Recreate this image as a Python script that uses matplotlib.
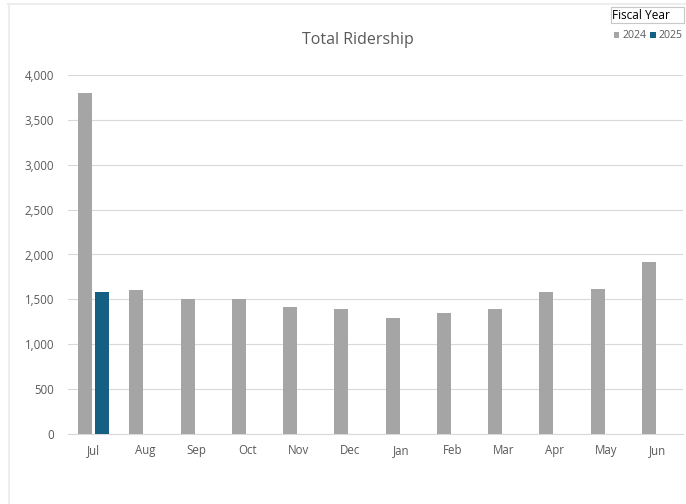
import matplotlib
matplotlib.use("Agg")
import matplotlib.pyplot as plt
from matplotlib.patches import Rectangle, Patch
from matplotlib.lines import Line2D
from matplotlib.ticker import FuncFormatter, MultipleLocator
import numpy as np

months = ["Jul", "Aug", "Sep", "Oct", "Nov", "Dec",
          "Jan", "Feb", "Mar", "Apr", "May", "Jun"]
fy2024 = [3800, 1600, 1505, 1508, 1412, 1396, 1292, 1348, 1390, 1582, 1620, 1916]
fy2025 = [1582, None, None, None, None, None, None, None, None, None, None, None]
series_names = ["2024", "2025"]
colors = ["#a5a5a5", "#156082"]

plt.rcParams["font.family"] = ["Open Sans", "DejaVu Sans"]

W, H = 686, 504
fig = plt.figure(figsize=(W / 100, H / 100), dpi=100)

ax = fig.add_axes([68 / W, (H - 434) / H, (683 - 68) / W, (434 - 75) / H])

x = np.arange(len(months))
bw = 0.273
off = 0.165
ax.bar(x - off, fy2024, width=bw, color=colors[0], zorder=3)
x25 = [xi for xi, v in zip(x, fy2025) if v is not None]
v25 = [v for v in fy2025 if v is not None]
ax.bar(np.array(x25) + off, v25, width=bw, color=colors[1], zorder=3)

ax.set_xlim(-0.5, len(months) - 0.5)
ax.set_ylim(0, 4000)
ax.yaxis.set_major_locator(MultipleLocator(500))
ax.yaxis.set_major_formatter(FuncFormatter(lambda v, p: f"{int(v):,}"))
ax.set_xticks(x)
ax.set_xticklabels(months)

ax.grid(axis="y", color="#d9d9d9", linewidth=0.8, zorder=0)
for s in ["top", "right", "left"]:
    ax.spines[s].set_visible(False)
ax.spines["bottom"].set_color("#d9d9d9")
ax.spines["bottom"].set_linewidth(0.8)
ax.tick_params(axis="both", length=0, labelsize=8.3, colors="#595959")
ax.tick_params(axis="y", pad=10)
ax.tick_params(axis="x", pad=7)

fig.text(358 / W, 1 - 40 / H, "Total Ridership", ha="center", va="center",
         fontsize=11.5, color="#595959")

# outer chart frame (top and left edges)
fig.add_artist(Line2D([8 / W, 1], [1 - 4 / H, 1 - 4 / H], color="#ededed",
                      linewidth=1.5, transform=fig.transFigure))
fig.add_artist(Line2D([9 / W, 9 / W], [0, 1 - 4 / H], color="#ededed",
                      linewidth=1.5, transform=fig.transFigure))

# field button for the legend
fig.add_artist(Rectangle((611 / W, 1 - 23 / H), 73 / W, 16 / H,
                         transform=fig.transFigure, facecolor="white",
                         edgecolor="#c8c8c8", linewidth=0.8))
fig.text(612.5 / W, 1 - 15.5 / H, "Fiscal Year", ha="left", va="center",
         fontsize=8.6, color="black")

handles = [Patch(facecolor=c, edgecolor="none") for c in colors]
fig.legend(handles, series_names, loc="center left",
           bbox_to_anchor=(613.5 / W, 1 - 36 / H), ncol=2, frameon=False,
           fontsize=7.6, labelcolor="#595959", handlelength=0.55,
           handleheight=0.55, handletextpad=0.3, columnspacing=0.3,
           borderpad=0, borderaxespad=0)

fig.savefig("out.png", dpi=100)
